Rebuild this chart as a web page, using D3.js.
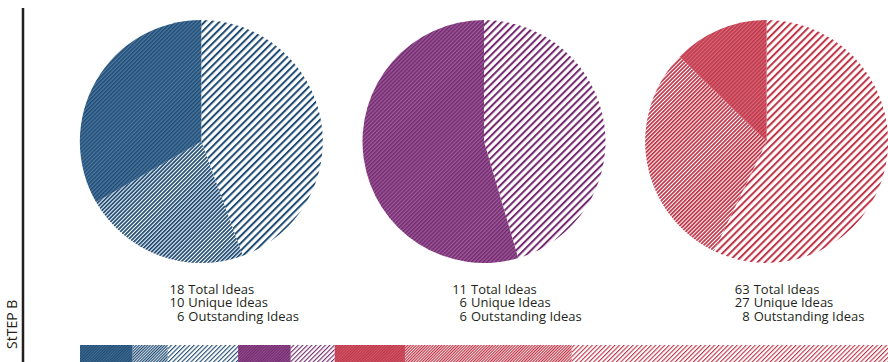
<!DOCTYPE html>
<html>
<head>
<meta charset="utf-8">
<script src="https://cdn.jsdelivr.net/npm/d3@7"></script>
<style>
  body { margin: 0; background: #fff; }
  svg { display: block; }
  text { font-family: "Open Sans", "DejaVu Sans", sans-serif; fill: #231f20; }
</style>
</head>
<body>
<div id="chart"></div>
<script>
// data
var groups = ["g1", "g2", "g3"];
var groupColors = ["#1f4b73", "#74286f", "#bf3447"];
var groupTints = ["#4f7aa3", "#9c5e9a", "#d66a78"];
var totalIdeas = [18, 11, 63];
var uniqueIdeas = [10, 6, 27];
var outstandingIdeas = [6, 6, 8];
var stepLabel = "StTEP B";
var lineLabels = ["Total Ideas", "Unique Ideas", "Outstanding Ideas"];

// slices per pie: sparse = not unique, medium = unique but not outstanding, dense = outstanding
var sliceKinds = ["sparse", "medium", "dense"];
var pieData = groups.map(function(g, i) {
  return [
    {kind: "sparse", value: totalIdeas[i] - uniqueIdeas[i]},
    {kind: "medium", value: uniqueIdeas[i] - outstandingIdeas[i]},
    {kind: "dense", value: outstandingIdeas[i]}
  ];
});

var width = 888, height = 362;

var svg = d3.select("#chart")
  .append("svg")
    .attr("width", width)
    .attr("height", height);

var defs = svg.append("defs");

// hatch patterns, one set for the pies and a finer one for the bar
var hatch = {
  pie: {dense: {p: 2.8, lw: 1.5}, medium: {p: 2.8, lw: 1.75}, sparse: {p: 5.2, lw: 2.0}},
  bar: {dense: {p: 2.0, lw: 1.3}, medium: {p: 2.0, lw: 1.2}, sparse: {p: 3.2, lw: 1.1}}
};

function makePattern(id, bg, fg, p, lw) {
  var pat = defs.append("pattern")
    .attr("id", id)
    .attr("patternUnits", "userSpaceOnUse")
    .attr("width", p)
    .attr("height", p)
    .attr("patternTransform", "rotate(45)");
  pat.append("rect")
    .attr("width", p).attr("height", p)
    .attr("fill", bg);
  pat.append("rect")
    .attr("width", lw).attr("height", p)
    .attr("fill", fg);
}

Object.keys(hatch).forEach(function(ctx) {
  groups.forEach(function(g, i) {
    sliceKinds.forEach(function(k) {
      var h = hatch[ctx][k];
      var bg = k == "dense" ? groupTints[i] : "#fff";
      makePattern(ctx + "-" + g + "-" + k, bg, groupColors[i], h.p, h.lw);
    });
  });
});

// left rule and label
svg.append("line")
  .attr("x1", 23).attr("x2", 23)
  .attr("y1", 8).attr("y2", height)
  .attr("stroke", "#231f20")
  .attr("stroke-width", 2.5);

svg.append("text")
  .attr("transform", "translate(16.5,349) rotate(-90)")
  .attr("font-size", 14)
  .text(stepLabel);

// pies
var x = d3.scaleBand()
  .domain(groups)
  .range([60, 908])
  .paddingInner(0)
  .align(0.5);

var radius = 121.5, cy = 141.5;

var pie = d3.pie()
  .sort(null)
  .value(function(d) { return d.value; });

var arc = d3.arc()
  .innerRadius(0)
  .outerRadius(radius);

groups.forEach(function(g, i) {
  var cx = x(g) + x.bandwidth() / 2;
  var gp = svg.append("g")
    .attr("transform", "translate(" + cx + "," + cy + ")");

  gp.selectAll("path")
    .data(pie(pieData[i]).filter(function(d) { return d.data.value > 0; }))
    .enter()
    .append("path")
      .attr("d", arc)
      .attr("fill", function(d) { return "url(#pie-" + g + "-" + d.data.kind + ")"; });

  // caption as one text block: numbers right-aligned, labels left-aligned
  var nums = [totalIdeas[i], uniqueIdeas[i], outstandingIdeas[i]];
  var tx = cx - 17;
  var cap = svg.append("text")
    .attr("font-size", 13);
  nums.forEach(function(n, j) {
    var yy = 293.5 + j * 13.5;
    cap.append("tspan")
      .attr("x", tx).attr("y", yy)
      .attr("text-anchor", "end")
      .text(n);
    cap.append("tspan")
      .attr("x", tx + 4).attr("y", yy)
      .attr("text-anchor", "start")
      .text(lineLabels[j]);
  });
});

// stacked bar along the bottom
var barSegs = [];
var cum = 0;
groups.forEach(function(g, i) {
  ["dense", "medium", "sparse"].forEach(function(k) {
    var v = pieData[i].filter(function(d) { return d.kind == k; })[0].value;
    if (v > 0) {
      barSegs.push({g: g, kind: k, start: cum, value: v});
      cum += v;
    }
  });
});

var xb = d3.scaleLinear()
  .domain([0, d3.sum(totalIdeas)])
  .range([80, 888]);

svg.selectAll("rect.seg")
  .data(barSegs)
  .enter()
  .append("rect")
    .attr("class", "seg")
    .attr("x", function(d) { return xb(d.start); })
    .attr("y", 345)
    .attr("width", function(d) { return xb(d.start + d.value) - xb(d.start); })
    .attr("height", 20)
    .attr("fill", function(d) { return "url(#bar-" + d.g + "-" + d.kind + ")"; });
</script>
</body>
</html>
